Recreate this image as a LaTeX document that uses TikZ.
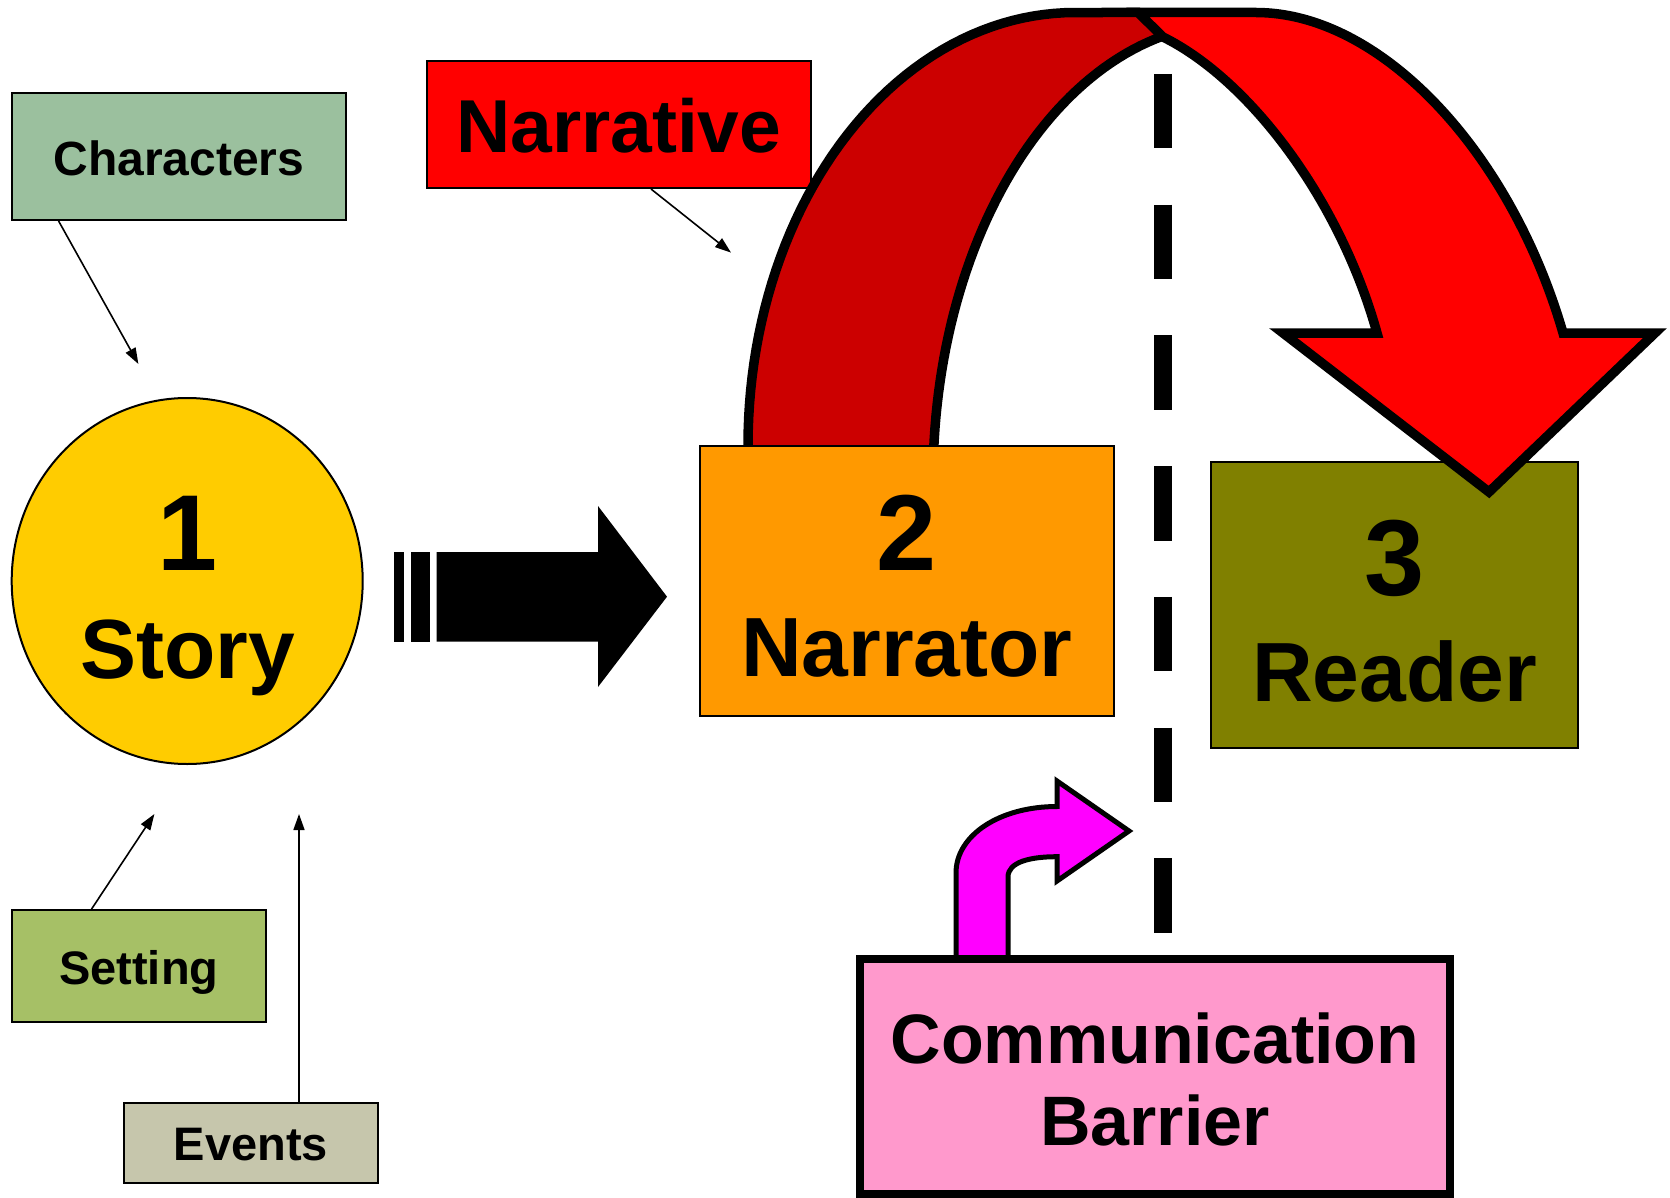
\documentclass[tikz,border=0pt]{standalone}
\usepackage{fontspec}
\setmainfont{Liberation Sans}
\usetikzlibrary{arrows.meta,shapes.geometric}
\definecolor{charsC}{RGB}{155,192,158}
\definecolor{settingC}{RGB}{166,192,102}
\definecolor{eventsC}{RGB}{198,198,172}
\definecolor{storyC}{RGB}{255,204,0}
\definecolor{narratorC}{RGB}{255,153,0}
\definecolor{readerC}{RGB}{128,128,0}
\definecolor{darkRed}{RGB}{204,0,0}
\definecolor{lightRed}{RGB}{255,0,0}
\definecolor{commC}{RGB}{255,153,204}
\definecolor{magC}{RGB}{255,0,255}
\newcommand{\myfs}[1]{\fontsize{#1}{#1}\selectfont}
\tikzset{
  lbl/.style={font=\bfseries, inner sep=0pt, anchor=base, text=black},
  thinbox/.style={draw=black, line width=2pt, inner sep=0pt, rectangle},
  pointer/.style={line width=1.6pt, -{Triangle[length=16pt,width=11pt]}},
  bandline/.style={draw=black, line width=9.5pt, line join=miter},
}
\begin{document}
\begin{tikzpicture}[x=1pt,y=-1pt]
\useasboundingbox (0,0) rectangle (1670,1198);

% label boxes
\node[thinbox, fill=charsC, minimum width=334.4pt, minimum height=127pt] (chars) at (178.8,156.5) {};
\node[lbl] (charsT) at (178.8,176) {\myfs{48}Characters};
\node[thinbox, fill=lightRed, minimum width=383.5pt, minimum height=127pt] (narr) at (618.75,124.5) {};
\node[lbl] (narrT) at (618.75,152.3) {\myfs{75}Narrative};
\node[thinbox, fill=settingC, minimum width=254.4pt, minimum height=112pt] (setting) at (138.8,966) {};
\node[lbl] (settingT) at (138.8,984) {\myfs{47}Setting};
\node[thinbox, fill=eventsC, minimum width=254.5pt, minimum height=79.6pt] (events) at (250.75,1142.8) {};
\node[lbl] (eventsT) at (250.75,1160.6) {\myfs{47}Events};

% story circle
\node[ellipse, draw=black, line width=2pt, fill=storyC, minimum width=351pt, minimum height=366pt, inner sep=0pt] (story) at (187.2,581) {};
\node[lbl] (storyN) at (187.5,570) {\myfs{108}1};
\node[lbl] (storyT) at (187.5,678) {\myfs{84}Story};

% thin pointers
\coordinate (charsOut) at (58.6,221);
\coordinate (charsIn) at (138.4,364);
\draw[pointer] (charsOut) -- (charsIn);
\coordinate (narrOut) at (651,189);
\coordinate (narrIn) at (731,252.6);
\draw[pointer] (narrOut) -- (narrIn);
\coordinate (setOut) at (91.6,909);
\coordinate (setIn) at (154.4,814);
\draw[pointer] (setOut) -- (setIn);
\coordinate (evOut) at (299,1102);
\coordinate (evIn) at (299,814);
\draw[pointer] (evOut) -- (evIn);

% black block arrow
\fill[black] (394,552) rectangle (404,641.7);
\fill[black] (411,552) rectangle (430,641.7);
\fill[black] (436.7,552) -- (598,552) -- (598,506) -- (667,596.7) -- (598,687) -- (598,641.7) -- (436.7,641.7) -- cycle;

% reader box
\node[thinbox, fill=readerC, minimum width=367.3pt, minimum height=286pt] (reader) at (1394.7,605) {};

% dark band (back of curved arrow): fill, then its two edges
\fill[darkRed] (749,452)
  -- plot[domain=180:90, samples=50, variable=\t] ({1075+327*cos(\t)},{445-432.5*sin(\t)})
  -- (1138,12.5) -- (1163,36)
  -- plot[domain=103.5:176.5, samples=50, variable=\t] ({1233+300*cos(\t)},{480-456.6*sin(\t)})
  -- cycle;
\draw[bandline] (749,452)
  -- plot[domain=180:90, samples=50, variable=\t] ({1075+327*cos(\t)},{445-432.5*sin(\t)})
  -- (1140,12.5);
\draw[bandline] plot[domain=103.5:176.5, samples=50, variable=\t] ({1233+300*cos(\t)},{480-456.6*sin(\t)});

% light band (front of curved arrow)
\path[fill=lightRed, bandline] (1138,12.5) -- (1256,12.5)
  .. controls (1380,12.5) and (1510,150) .. (1563,333)
  -- (1655,333) -- (1489,492) -- (1283,333) -- (1377,333)
  .. controls (1340,200) and (1250,80) .. (1163,37) -- cycle;

% narrator box
\node[thinbox, fill=narratorC, minimum width=414.4pt, minimum height=270.3pt] (narrator) at (906.8,580.9) {};
\node[lbl] (narratorN) at (907,570) {\myfs{108}2};
\node[lbl] (narratorT) at (906.8,676.5) {\myfs{84}Narrator};
\node[lbl] (readerN) at (1395,595) {\myfs{108}3};
\node[lbl] (readerT) at (1394.7,701) {\myfs{84}Reader};

% communication barrier line
\coordinate (barTop) at (1163,74);
\coordinate (barBot) at (1163,934.5);
\draw[line width=18.3pt, dash pattern=on 74.5pt off 56.2pt] (barTop) -- (barBot);

% magenta bent arrow
\path[fill=magC, draw=black, line width=5pt, line join=miter] (956,962) -- (956,873)
  .. controls (956,835) and (1000,806.5) .. (1057,806.5)
  -- (1057,781) -- (1129,831) -- (1057,881) -- (1057,856.7)
  .. controls (1030,856.7) and (1008,862) .. (1008,877) -- (1008,962);

% communication barrier box
\node[draw=black, line width=8pt, fill=commC, rectangle, inner sep=0pt, minimum width=590pt, minimum height=235pt] (comm) at (1155,1076.5) {};
\node[lbl] (commT1) at (1155,1063) {\myfs{70}Communication};
\node[lbl] (commT2) at (1155,1145) {\myfs{70}Barrier};
\end{tikzpicture}
\end{document}
